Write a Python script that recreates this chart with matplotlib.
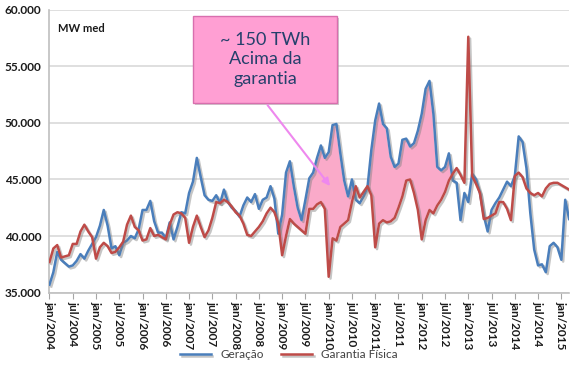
import numpy as np
import matplotlib
matplotlib.use('Agg')
import matplotlib.pyplot as plt
import matplotlib.patheffects as pe
from matplotlib.patches import Rectangle
from matplotlib.ticker import FuncFormatter

plt.rcParams['font.family'] = ['Lato', 'DejaVu Sans']

# === Dados mensais (MW med), jan/2004 a mar/2015 ===
geracao = [
    35700, 36800, 38600, 37900, 37600, 37300, 37400, 37800, 38400, 38000, 38700, 39300,  # 2004
    39900, 40900, 42300, 40900, 38900, 39100, 38300, 39400, 39600, 40000, 39800, 40600,  # 2005
    42300, 42300, 43100, 41300, 40300, 40300, 39800, 41200, 39700, 40800, 42100, 42000,  # 2006
    43800, 44800, 46900, 45200, 43600, 43200, 43100, 43600, 42900, 44100, 43000, 42500,  # 2007
    42200, 41700, 42700, 43400, 43000, 43700, 42400, 43200, 43400, 44400, 43300, 40200,  # 2008
    41900, 45600, 46600, 44400, 42500, 41400, 43200, 45100, 45600, 46900, 48000, 46900,  # 2009
    47400, 49800, 49900, 47300, 44900, 43500, 45000, 43200, 42900, 43500, 44300, 47600,  # 2010
    50200, 51700, 49900, 49500, 47000, 46100, 46400, 48500, 48600, 47900, 48200, 49300,  # 2011
    50800, 53000, 53700, 50800, 46100, 45800, 46100, 47300, 44900, 44700, 41400, 43800,  # 2012
    43000, 45500, 45000, 43800, 41800, 40400, 42300, 42900, 43400, 44100, 44800, 44400,  # 2013
    45300, 48800, 48300, 46000, 42000, 38800, 37400, 37500, 36800, 39100, 39400, 39000,  # 2014
    37900, 43200, 41500,                                                                 # 2015
]
garantia = [
    37700, 38900, 39200, 38100, 38200, 38300, 39300, 39300, 40400, 41000, 40400, 39900,
    38000, 39000, 39400, 39100, 38500, 38600, 39000, 39500, 41000, 41800, 40800, 40500,
    39600, 39700, 40700, 40000, 40100, 39900, 39700, 41000, 41900, 42100, 42000, 41600,
    39400, 40800, 41800, 40800, 39900, 40500, 41600, 43000, 42900, 43200, 43000, 42600,
    42100, 41800, 41100, 40100, 40000, 40400, 40800, 41300, 42000, 42500, 42100, 41100,
    38300, 40000, 41500, 41100, 40800, 40500, 40200, 42400, 42400, 42800, 43000, 42400,
    36400, 39800, 39600, 40800, 41100, 41400, 43000, 44400, 43400, 43900, 44400, 43600,
    39000, 41100, 41400, 41200, 41300, 41600, 42500, 43500, 44900, 45000, 43800, 42300,
    39700, 41400, 42300, 42000, 42700, 43200, 43900, 44900, 45500, 46000, 45400, 44700,
    57600, 45300, 44600, 43800, 41500, 41600, 41800, 42000, 43000, 43000, 42400, 41400,
    45300, 45600, 45200, 44200, 43800, 43600, 43800, 43500, 44200, 44600, 44700, 44700,
    44500, 44300, 44100,
]
anos = list(range(2004, 2016))
rotulos_x = [f'{m}/{a}' for a in anos for m in ('jan', 'jul')][:23]

# periodo destacado (geracao acima da garantia)
inicio_destaque, fim_destaque = 59, 106

x = np.arange(len(geracao))
ger = np.array(geracao)
gar = np.array(garantia)

fig = plt.figure(figsize=(5.78, 3.69), dpi=100)
ax = fig.add_axes([0.0856, 0.207, 0.899, 0.767])

# area rosa
sel = (x >= inicio_destaque) & (x <= fim_destaque)
ax.fill_between(x[sel], gar[sel], ger[sel], where=ger[sel] > gar[sel], interpolate=True,
                facecolor='#FAAAC9', edgecolor='white', linewidth=1.6, zorder=2)

sombra = [pe.SimpleLineShadow(offset=(1.3, -1.3), shadow_color='#7f7f7f', alpha=0.45), pe.Normal()]
ax.plot(x, ger, color='#4A7EBB', lw=1.8, label='Geração', path_effects=sombra, zorder=3)
ax.plot(x, gar, color='#BE4B48', lw=1.8, label='Garantia Física', path_effects=sombra, zorder=4)

# eixos
ax.set_xlim(0, len(geracao) - 1)
ax.set_ylim(35000, 60000)
ax.set_yticks(np.arange(35000, 60001, 5000))
ax.yaxis.set_major_formatter(FuncFormatter(lambda v, p: f'{v:,.0f}'.replace(',', '.')))
ax.set_xticks(np.arange(0, len(geracao), 6))
ax.set_xticklabels(rotulos_x, rotation=-90, fontsize=8.5, fontweight='bold', color='#1a1a1a')
for lbl in ax.get_yticklabels():
    lbl.set_fontsize(8.5)
    lbl.set_fontweight('bold')
    lbl.set_color('#1a1a1a')
ax.tick_params(axis='y', length=0, pad=6)
ax.tick_params(axis='x', length=4, color='#A6A6A6', pad=2)
ax.grid(axis='y', color='#D9D9D9', lw=1.2)
ax.set_axisbelow(True)
for s in ['top', 'right']:
    ax.spines[s].set_visible(False)
for s in ['left', 'bottom']:
    ax.spines[s].set_color('#BFBFBF')
    ax.spines[s].set_linewidth(1.2)

fig.text(0.101, 0.923, 'MW med', fontsize=8, fontweight='bold', color='#1a1a1a', va='center')

# caixa de destaque
caixa_sombra = Rectangle((0.337, 0.716), 0.249, 0.236, transform=fig.transFigure,
                         facecolor='#9a9a9a', alpha=0.5, edgecolor='none', zorder=9)
caixa = Rectangle((0.334, 0.721), 0.249, 0.236, transform=fig.transFigure,
                  facecolor='#FF9FD3', edgecolor='#D86FAE', lw=1.0, zorder=10)
fig.patches.extend([caixa_sombra, caixa])
fig.text(0.4585, 0.839, '~ 150 TWh\nAcima da\ngarantia', ha='center', va='center',
         fontsize=13, color='#24406B', linespacing=1.25, zorder=11)
fig.add_artist(matplotlib.patches.FancyArrowPatch(
    (0.46, 0.721), (0.574, 0.49), transform=fig.transFigure, arrowstyle='-|>',
    mutation_scale=11, color='#EE88EE', lw=1.5, zorder=11))

fig.legend(loc='center', bbox_to_anchor=(0.5, 0.038), ncol=2, frameon=False,
           fontsize=8.5, handlelength=2.6, columnspacing=1.5, labelcolor='#404040')

plt.savefig('out.png', dpi=100)
